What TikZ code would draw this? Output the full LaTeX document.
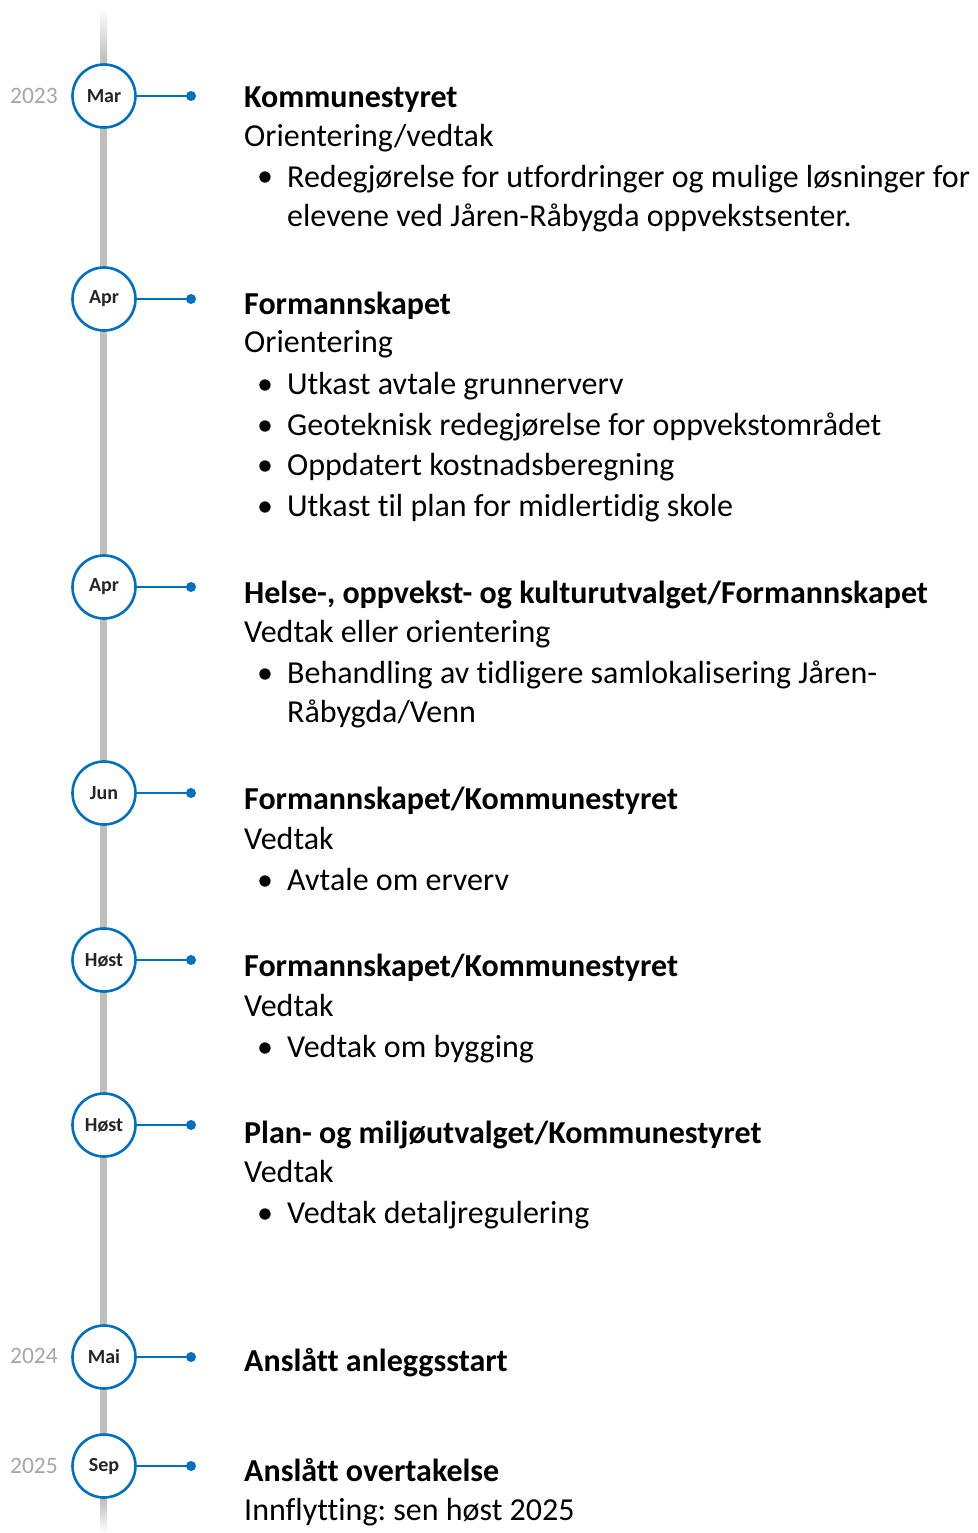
\documentclass[tikz,border=0pt]{standalone}
\usepackage{fontspec}
\setmainfont[Ligatures={NoCommon,NoContextual},Contextuals=NoAlternate]{Carlito}
\frenchspacing
\definecolor{tlblue}{HTML}{0070C0}
\definecolor{tlgray}{HTML}{BFBFBF}
\definecolor{yeargray}{HTML}{A6A6A6}
\definecolor{txt}{HTML}{000000}
\definecolor{mtxt}{HTML}{262626}
\begin{document}
\begin{tikzpicture}[x=1pt,y=-1pt,
  month/.style={circle,draw=tlblue,line width=2.6pt,fill=white,minimum size=63pt,inner sep=0pt,font=\fontsize{20}{24}\selectfont\bfseries,text=mtxt},
  year/.style={anchor=east,inner sep=0pt,text=yeargray,font=\fontsize{23.5}{28}\selectfont},
  conn/.style={draw=tlblue,line width=1.6pt},
  dot/.style={circle,fill=tlblue,inner sep=0pt,minimum size=10pt},
  ttl/.style={anchor=base west,inner sep=0pt,text=txt,font=\fontsize{32}{39}\selectfont\bfseries},
  sub/.style={anchor=base west,inner sep=0pt,text=txt,font=\fontsize{32}{39}\selectfont},
  item/.style={anchor=base west,inner sep=0pt,align=left,text=txt,font=\fontsize{32}{39}\selectfont},
  bul/.style={anchor=base,inner sep=0pt,text=txt,font=\fontsize{32}{39}\selectfont},
  vline/.style={line width=7pt},
]
\useasboundingbox (0,0) rectangle (977,1533);
% vertical timeline
\coordinate (lt) at (103.5,8);
\coordinate (lt2) at (103.5,60);
\coordinate (lb2) at (103.5,1500);
\coordinate (lb) at (103.5,1533);
\shade[top color=white,bottom color=tlgray] (100,8) rectangle (107,60);
\draw[vline,tlgray] (lt2) -- (lb2);
\shade[top color=tlgray,bottom color=white] (100,1500) rectangle (107,1533);

% markers
\foreach \n/\y/\m in {1/96/Mar,2/299/Apr,3/587/Apr,4/793/Jun,5/960/Høst,6/1125/Høst,7/1357/Mai,8/1466/Sep}{
  \node[month] (m\n) at (104,\y) {\m};
  \node[dot] (d\n) at (191,\y) {};
  \draw[conn] (m\n.east) -- (d\n.center);
}
\node[year] (y1) at (58,96) {2023};
\node[year] (y2) at (58,1356) {2024};
\node[year] (y3) at (58,1466) {2025};

% block 1
\node[ttl] (t1) at (244,108) {Kommunestyret};
\node[sub] (s1) at (244,147) {Orientering/vedtak};
\node[bul] (b11) at (265,187) {•};
\node[item] (i11) at (287,226) {Redegjørelse for utfordringer og mulige løsninger for\\elevene ved Jåren-Råbygda oppvekstsenter.};

% block 2
\node[ttl] (t2) at (244,314) {Formannskapet};
\node[sub] (s2) at (244,352) {Orientering};
\node[bul] (b21) at (265,394) {•};
\node[item] (i21) at (287,394) {Utkast avtale grunnerverv};
\node[bul] (b22) at (265,435) {•};
\node[item] (i22) at (287,435) {Geoteknisk redegjørelse for oppvekstområdet};
\node[bul] (b23) at (265,475) {•};
\node[item] (i23) at (287,475) {Oppdatert kostnadsberegning};
\node[bul] (b24) at (265,516) {•};
\node[item] (i24) at (287,516) {Utkast til plan for midlertidig skole};

% block 3
\node[ttl] (t3) at (244,603) {Helse-, oppvekst- og kulturutvalget/Formannskapet};
\node[sub] (s3) at (244,642) {Vedtak eller orientering};
\node[bul] (b31) at (265,683) {•};
\node[item] (i31) at (287,722) {Behandling av tidligere samlokalisering Jåren-\\Råbygda/Venn};

% block 4
\node[ttl] (t4) at (244,809) {Formannskapet/Kommunestyret};
\node[sub] (s4) at (244,849) {Vedtak};
\node[bul] (b41) at (265,890) {•};
\node[item] (i41) at (287,890) {Avtale om erverv};

% block 5
\node[ttl] (t5) at (244,976) {Formannskapet/Kommunestyret};
\node[sub] (s5) at (244,1016) {Vedtak};
\node[bul] (b51) at (265,1057) {•};
\node[item] (i51) at (287,1057) {Vedtak om bygging};

% block 6
\node[ttl] (t6) at (244,1143) {Plan- og miljøutvalget/Kommunestyret};
\node[sub] (s6) at (244,1182) {Vedtak};
\node[bul] (b61) at (265,1223) {•};
\node[item] (i61) at (287,1223) {Vedtak detaljregulering};

% block 7
\node[ttl] (t7) at (244,1371) {Anslått anleggsstart};

% block 8
\node[ttl] (t8) at (244,1481) {Anslått overtakelse};
\node[sub] (s8) at (244,1520) {Innflytting: sen høst 2025};
\end{tikzpicture}
\end{document}
